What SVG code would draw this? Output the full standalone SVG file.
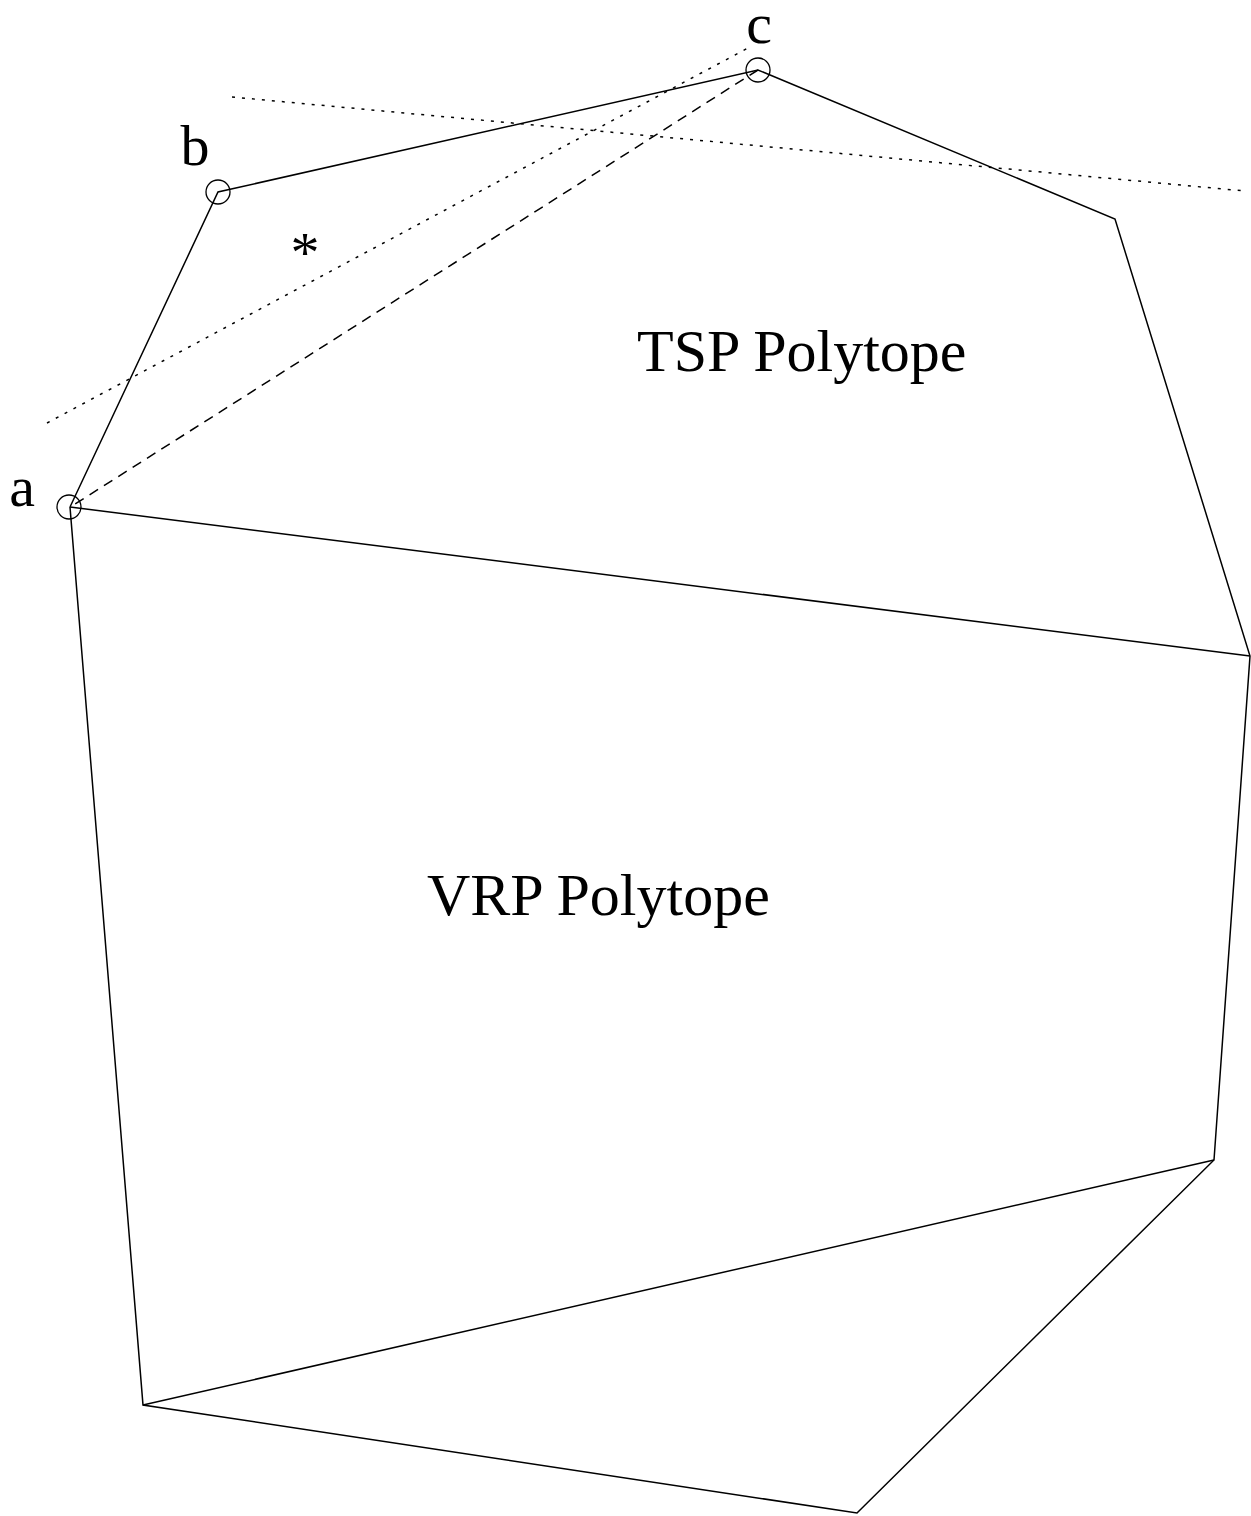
<svg xmlns="http://www.w3.org/2000/svg" width="1251" height="1516" viewBox="0 0 1251 1516">
<style>
.edge{fill:none;stroke:#000;stroke-width:1.5}
.dot{fill:none;stroke:#000;stroke-width:1.5;stroke-dasharray:3 7}
.dash{fill:none;stroke:#000;stroke-width:1.5;stroke-dasharray:10 7}
.vtx{fill:none;stroke:#000;stroke-width:1.3}
.lbl{font-family:"Liberation Serif","Times New Roman",serif;font-size:58px;fill:#000}
.big{font-family:"Liberation Serif","Times New Roman",serif;font-size:60px;fill:#000}
</style>
<rect width="1251" height="1516" fill="#fff"/>
<g id="connectors">
<polyline class="edge" points="70,507 218,192 758,70 1115,219 1250,656 1214,1160 857,1513 143,1405 70,507"/>
<line class="edge" x1="70" y1="507" x2="1250" y2="656"/>
<line class="edge" x1="143" y1="1405" x2="1214" y2="1160"/>
<line class="dash" x1="758" y1="70" x2="72" y2="506"/>
<line class="dot" x1="47" y1="423" x2="748" y2="48"/>
<line class="dot" x1="232" y1="97" x2="1245" y2="191"/>
</g>
<g id="node-a"><circle class="vtx" cx="69" cy="507" r="12"/><text class="lbl" x="22" y="506" text-anchor="middle">a</text></g>
<g id="node-b"><circle class="vtx" cx="218" cy="192" r="12"/><text class="lbl" x="195" y="165" text-anchor="middle">b</text></g>
<g id="node-c"><circle class="vtx" cx="758" cy="70" r="12"/><text class="lbl" x="759" y="43" text-anchor="middle">c</text></g>
<g id="star"><text class="lbl" x="305" y="272" text-anchor="middle">*</text></g>
<g id="tsp"><text class="big" x="637" y="371">TSP Polytope</text></g>
<g id="vrp"><text class="big" x="427" y="915">VRP Polytope</text></g>
</svg>
